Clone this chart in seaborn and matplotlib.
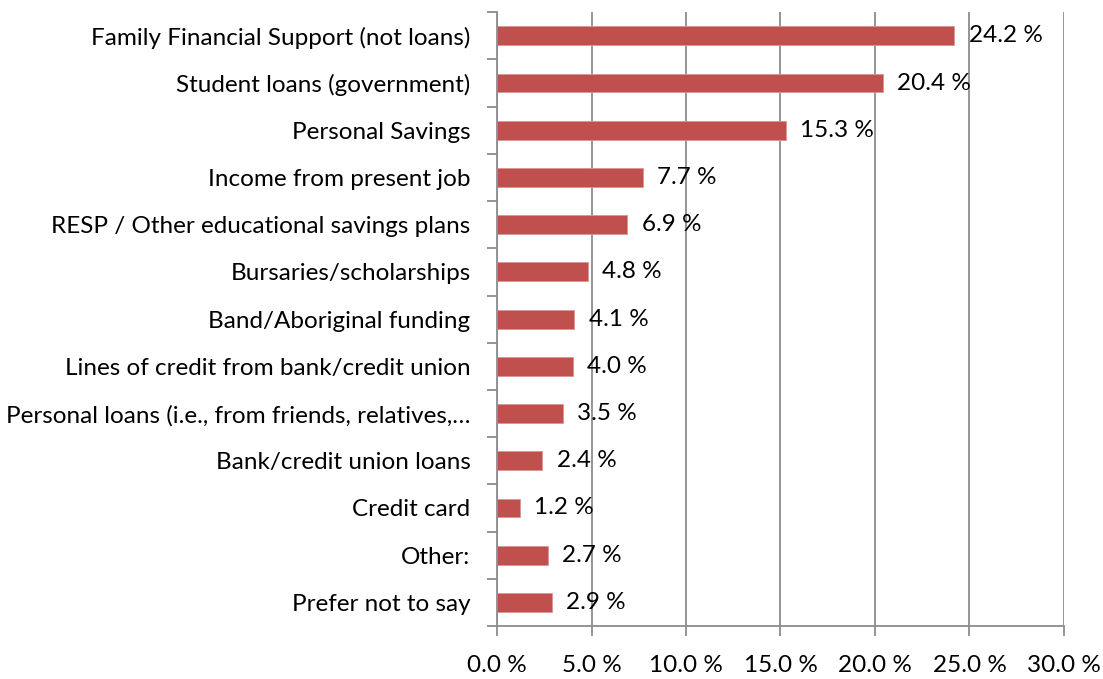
import matplotlib
matplotlib.use("Agg")
import matplotlib.pyplot as plt
import seaborn as sns
import pandas as pd
import numpy as np
from matplotlib.ticker import FixedLocator

categories = [
    "Family Financial Support (not loans)",
    "Student loans (government)",
    "Personal Savings",
    "Income from present job",
    "RESP / Other educational savings plans",
    "Bursaries/scholarships",
    "Band/Aboriginal funding",
    "Lines of credit from bank/credit union",
    "Personal loans (i.e., from friends, relatives,\u2026",
    "Bank/credit union loans",
    "Credit card",
    "Other:",
    "Prefer not to say",
]
values = [24.2, 20.4, 15.3, 7.7, 6.9, 4.8, 4.1, 4.0, 3.5, 2.4, 1.2, 2.7, 2.9]
x_ticks = [0, 5, 10, 15, 20, 25, 30]

bar_color = "#C0504D"
grid_color = "#8C8C8C"
font_size = 17.5

sns.set_theme(style="white")
plt.rcParams["font.family"] = ["Lato", "DejaVu Sans"]

df = pd.DataFrame({"source": categories, "pct": values})

fig = plt.figure(figsize=(11.03, 6.79), dpi=100)
ax = fig.add_axes([0.4506, 0.078, 0.5140, 0.904])

sns.barplot(data=df, x="pct", y="source", orient="h", color=bar_color,
            width=0.4, saturation=1, ax=ax)
for p in ax.patches:
    p.set_edgecolor("#D99694")
    p.set_linewidth(0.6)

n = len(categories)
ax.set_xlim(0, 30)
ax.set_ylim(n - 0.5, -0.5)
ax.set_xticks(x_ticks)
ax.set_xticklabels([f"{t:.1f} %" for t in x_ticks])
ax.set_xlabel("")
ax.set_ylabel("")

# vertical gridlines
ax.grid(axis="x", color=grid_color, linewidth=1.3)
ax.grid(axis="y", visible=False)
ax.set_axisbelow(True)

# spines
for side in ("top", "right"):
    ax.spines[side].set_visible(False)
for side in ("left", "bottom"):
    ax.spines[side].set_color(grid_color)
    ax.spines[side].set_linewidth(1.3)

# category tick marks sit between the bars
ax.yaxis.set_minor_locator(FixedLocator(np.arange(-0.5, n, 1.0)))
ax.tick_params(axis="y", which="major", length=0, pad=19, labelsize=font_size,
               labelcolor="black")
ax.tick_params(axis="y", which="minor", left=True, length=7, width=1.3,
               color=grid_color, direction="out")
ax.tick_params(axis="x", which="major", bottom=True, length=7, width=1.3,
               color=grid_color, direction="out", pad=14, labelsize=font_size,
               labelcolor="black")

# value labels
for i, v in enumerate(values):
    ax.text(v + 0.75, i, f"{v:.1f} %", va="center", ha="left",
            fontsize=font_size, color="black")

fig.savefig("out.png", dpi=100, facecolor="white")
